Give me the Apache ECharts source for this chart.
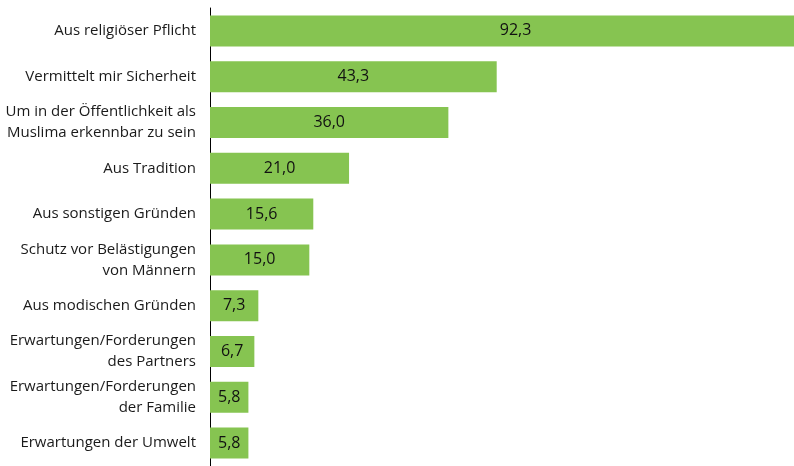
<!DOCTYPE html>
<html lang="de">
<head>
    <meta charset="utf-8" />
    <title>Gründe für das Tragen des Kopftuchs</title>
    <script src="https://cdn.jsdelivr.net/npm/echarts@6/dist/echarts.min.js"></script>
</head>
<body style="margin: 0;background: #FFFFFF">
    <div id="chart" style="width:794px;height:466px"></div>
    <script>
    // Kategorien (von oben nach unten) und Werte in Prozent
    let categories = [
        'Aus religiöser Pflicht',
        'Vermittelt mir Sicherheit',
        'Um in der Öffentlichkeit als\nMuslima erkennbar zu sein',
        'Aus Tradition',
        'Aus sonstigen Gründen',
        'Schutz vor Belästigungen\nvon Männern',
        'Aus modischen Gründen',
        'Erwartungen/Forderungen\ndes Partners',
        'Erwartungen/Forderungen\nder Familie',
        'Erwartungen der Umwelt'
    ]
    let values = [92.3, 43.3, 36.0, 21.0, 15.6, 15.0, 7.3, 6.7, 5.8, 5.8]

    let chart = echarts.init(document.getElementById('chart'))
    let font = '"Open Sans", "DejaVu Sans", sans-serif'

    chart.setOption({
        animation: false,
        // Achse endet am Bildrand, der erste Balken ragt darüber hinaus
        grid: { left: 210, top: 8, right: 0, height: 460, containLabel: false },
        xAxis: {
            type: 'value',
            min: 0,
            max: 88.2,
            show: false
        },
        yAxis: {
            type: 'category',
            data: categories,
            inverse: true,
            axisLine: { show: true, lineStyle: { color: '#000', width: 1 } },
            axisTick: { show: false },
            axisLabel: {
                margin: 14,
                color: '#1a1a1a',
                fontSize: 15,
                fontFamily: font,
                lineHeight: 21,
                align: 'right'
            }
        },
        series: [{
            type: 'bar',
            data: values,
            barWidth: 31,
            clip: false,
            itemStyle: { color: '#86c451' },
            label: {
                show: true,
                position: 'inside',
                color: '#111',
                fontSize: 16,
                fontFamily: font,
                formatter: p => p.value.toFixed(1).replace('.', ',')
            }
        }]
    })
    </script>
</body>
</html>
